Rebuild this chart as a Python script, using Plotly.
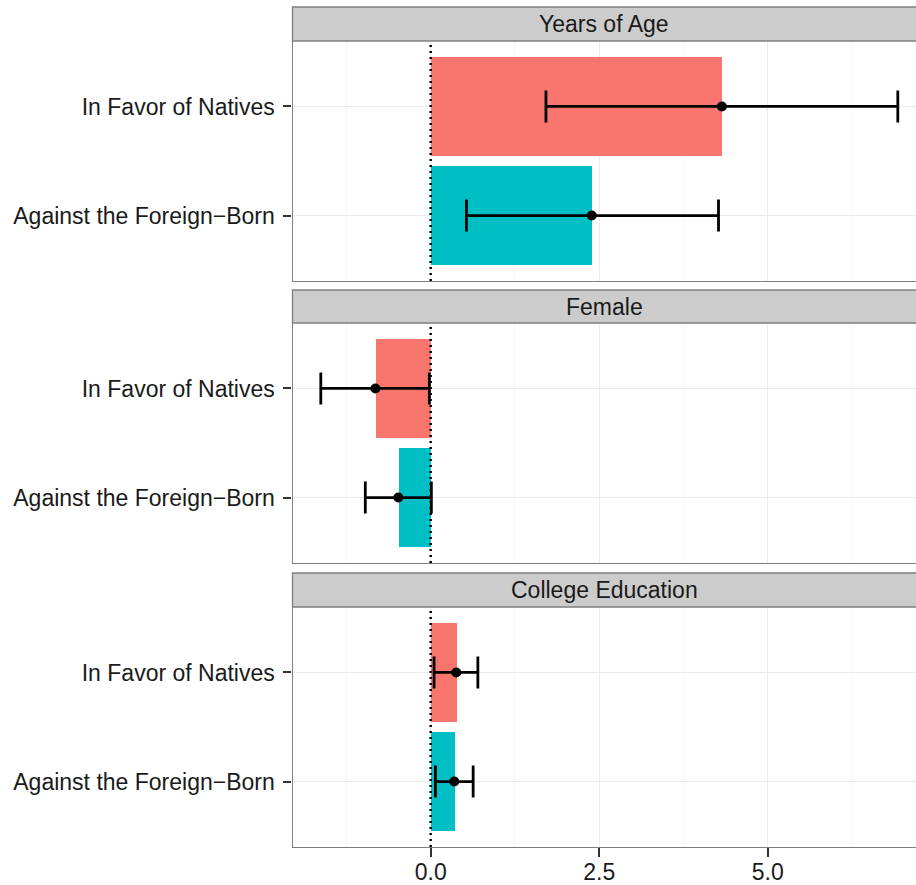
import plotly.graph_objects as go

# ---- data ----
panels = ["Years of Age", "Female", "College Education"]
categories = ["In Favor of Natives", "Against the Foreign\u2212Born"]
bar_colors = ["#F8766D", "#00BFC4"]

estimate_age = [4.32, 2.39]
lower_age = [1.71, 0.53]
upper_age = [6.93, 4.27]

estimate_female = [-0.82, -0.48]
lower_female = [-1.63, -0.97]
upper_female = [-0.02, 0.01]

estimate_college = [0.38, 0.35]
lower_college = [0.05, 0.07]
upper_college = [0.70, 0.63]

panel_data = [
    (estimate_age, lower_age, upper_age),
    (estimate_female, lower_female, upper_female),
    (estimate_college, lower_college, upper_college),
]

W, H = 916, 885
FONT = "Liberation Sans, Arial, Helvetica, sans-serif"
FS = 23

# pixel layout (top, bottom) of each panel and strip
panel_px = [(41, 281), (323, 563), (607, 847)]
strip_px = [(7, 41), (290, 323), (573, 607)]
x_left_px = 292.5

def py(px):
    return 1 - px / H

fig = go.Figure()

for i, (est, lo, hi) in enumerate(panel_data):
    n = "" if i == 0 else str(i + 1)
    xa, ya = "x" + n, "y" + n
    fig.add_trace(go.Bar(
        x=est, y=categories, orientation="h", width=0.9,
        marker=dict(color=bar_colors, line=dict(width=0)),
        xaxis=xa, yaxis=ya, showlegend=False, hoverinfo="skip",
    ))
    fig.add_trace(go.Scatter(
        x=est, y=categories, mode="markers",
        marker=dict(color="black", size=10),
        error_x=dict(type="data", symmetric=False,
                     array=[h - e for h, e in zip(hi, est)],
                     arrayminus=[e - l for e, l in zip(est, lo)],
                     color="black", thickness=2.8, width=16),
        xaxis=xa, yaxis=ya, showlegend=False,
    ))
    # dotted reference line at zero
    fig.add_shape(type="line", xref=xa, yref=ya + " domain", x0=0, x1=0, y0=0, y1=1,
                  line=dict(color="black", width=2.5, dash="2px,4px"), layer="above")
    # strip
    st, sb = strip_px[i]
    fig.add_shape(type="rect", xref="paper", yref="paper",
                  x0=x_left_px / W, x1=1.02, y0=py(sb), y1=py(st),
                  fillcolor="#CCCCCC", line=dict(color="#7F7F7F", width=1.3), layer="above")
    fig.add_annotation(text=panels[i], xref="paper", yref="paper",
                       x=(x_left_px + W) / 2 / W, y=py((st + sb) / 2),
                       showarrow=False, font=dict(family=FONT, size=FS, color="#1A1A1A"),
                       xanchor="center", yanchor="middle")

    pt, pb = panel_px[i]
    bottom = (i == 2)
    fig.update_layout(**{
        ("xaxis" + n): dict(
            domain=[x_left_px / W, 1], anchor=ya, range=[-2.05, 7.20],
            matches=None if i == 0 else "x",
            showgrid=True, gridcolor="#EBEBEB", gridwidth=1.2,
            tick0=0, dtick=2.5, tickformat=".1f",
            minor=dict(tick0=1.25, dtick=2.5, showgrid=True, gridcolor="#F7F7F7", gridwidth=1.2),
            zeroline=False, showline=True, mirror=True, linecolor="#7F7F7F", linewidth=1.3,
            showticklabels=bottom, ticks="outside" if bottom else "",
            ticklen=9, tickwidth=2, tickcolor="#333333",
            ticklabelstandoff=-5,
            tickfont=dict(family=FONT, size=FS, color="#1A1A1A"),
            automargin=False,
        ),
        ("yaxis" + n): dict(
            domain=[py(pb), py(pt)], anchor=xa, type="category",
            categoryorder="array", categoryarray=categories[::-1],
            range=[-0.6, 1.6],
            showgrid=True, gridcolor="#EBEBEB", gridwidth=1.2, zeroline=False,
            showline=True, mirror=False, linecolor="#7F7F7F", linewidth=1.3,
            ticks="outside", ticklen=8, tickwidth=2, tickcolor="#333333",
            ticklabelstandoff=4,
            tickfont=dict(family=FONT, size=FS, color="#1A1A1A"),
            automargin=False,
        ),
    })

fig.update_layout(
    width=W, height=H, margin=dict(l=0, r=0, t=0, b=0),
    paper_bgcolor="white", plot_bgcolor="white",
    bargap=0, showlegend=False,
)

fig.write_html("out.html", config={"displayModeBar": False},
               post_script="document.body.style.margin='0';document.body.style.overflow='hidden';")
